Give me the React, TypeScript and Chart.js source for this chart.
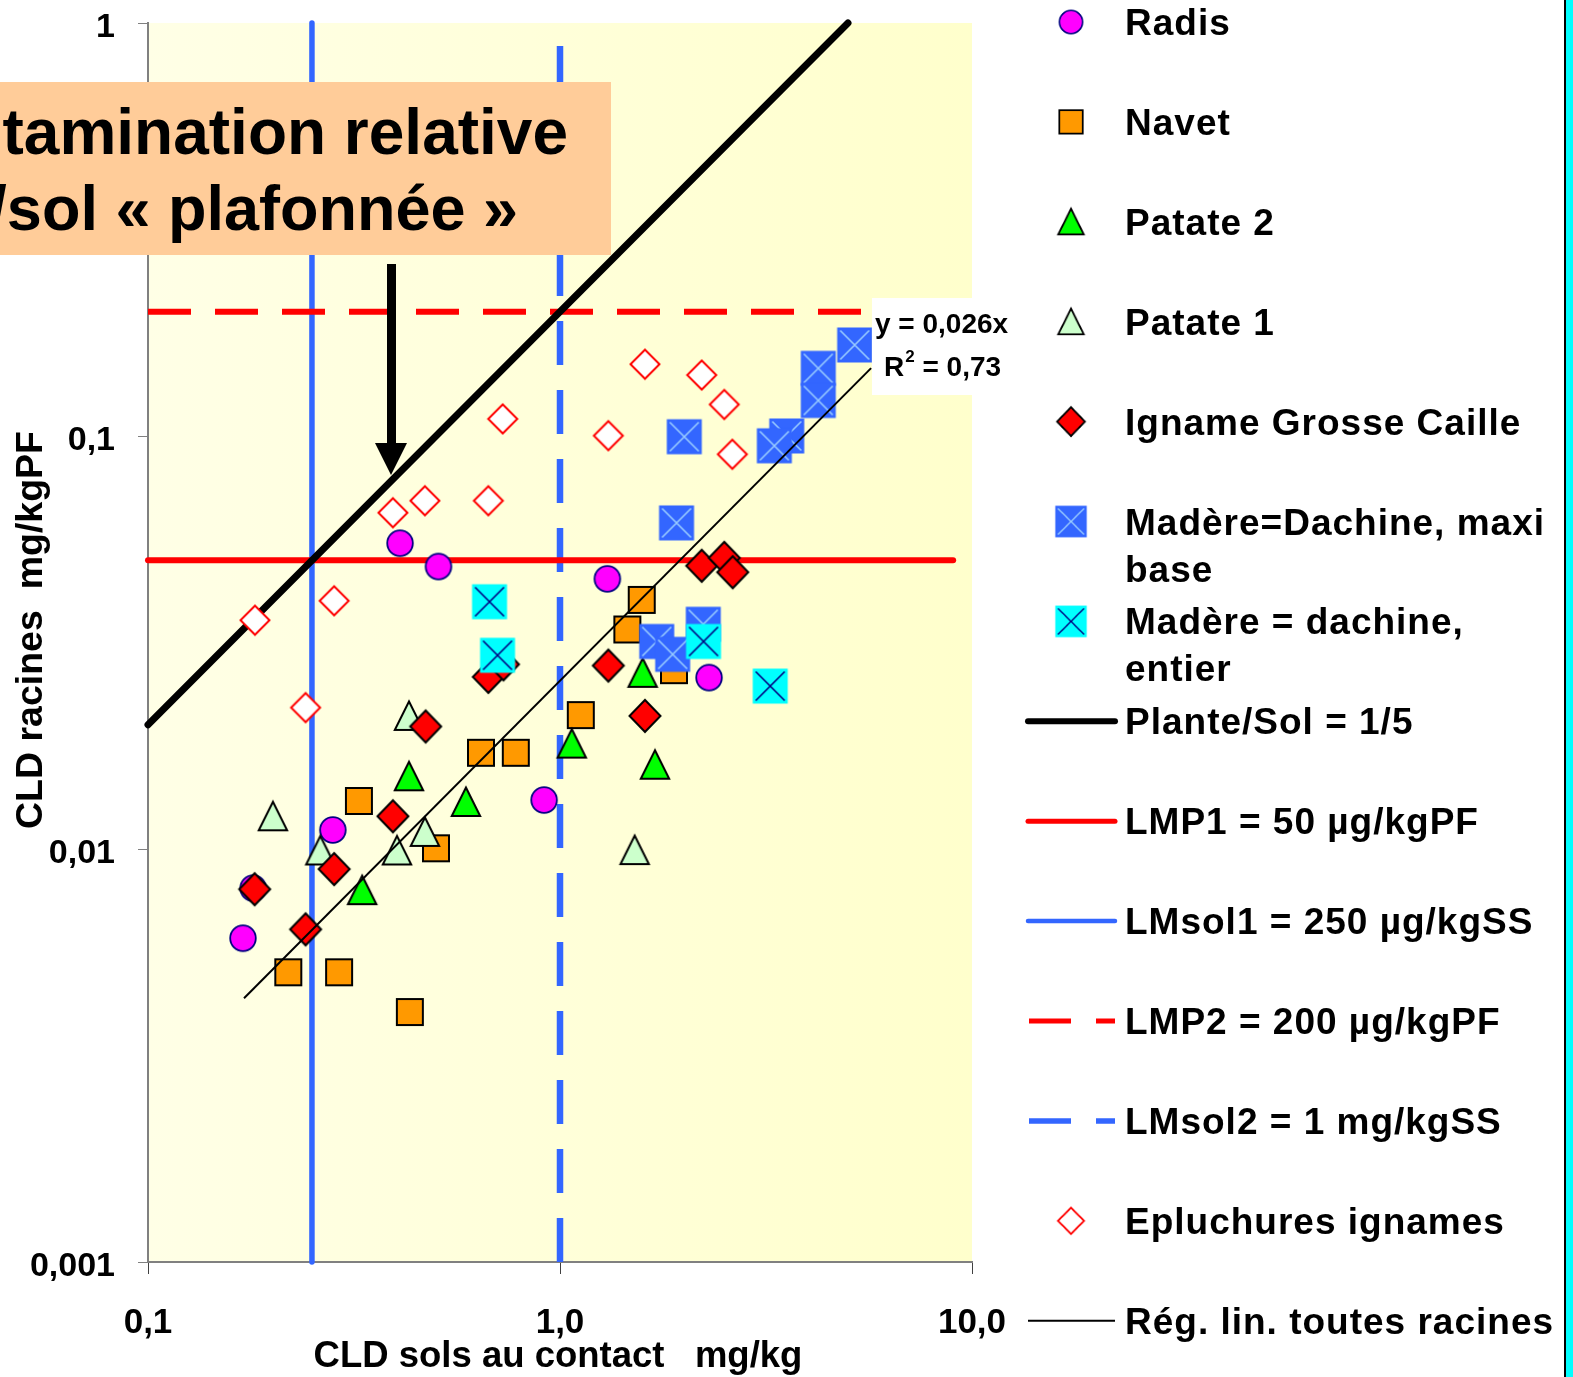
import React, { useEffect, useRef } from 'react';
import { Chart, registerables } from 'chart.js';

Chart.register(...registerables);

const W = 1573;
const H = 1377;
const FONT = '"Liberation Sans", Arial, Helvetica, sans-serif';

// ---- axes ----
const xTickValues = [0.1, 1, 10];
const xTickLabels = ['0,1', '1,0', '10,0'];
const yTickValues = [0.001, 0.01, 0.1, 1];
const yTickLabels = ['0,001', '0,01', '0,1', '1'];
const xTitle = 'CLD sols au contact   mg/kg';
const yTitle = 'CLD racines  mg/kgPF';

// ---- series (x = soil mg/kg, y = root mg/kgPF) ----
const radisX = [0.409, 0.507, 1.303, 2.3, 0.915, 0.281, 0.18, 0.17];
const radisY = [0.055, 0.0483, 0.0451, 0.026, 0.01314, 0.01112, 0.00804, 0.00608];

const navetX = [1.579, 1.457, 1.891, 1.123, 0.643, 0.781, 0.325, 0.5, 0.219, 0.291, 0.432];
const navetY = [0.0401, 0.034, 0.0271, 0.0211, 0.0171, 0.0171, 0.01307, 0.01004, 0.00503, 0.00503, 0.00403];

const patate2X = [1.587, 1.068, 1.7, 0.43, 0.591, 0.331];
const patate2Y = [0.0267, 0.018, 0.016, 0.015, 0.013, 0.00795];

const patate1X = [0.43, 0.201, 0.262, 0.402, 0.47, 1.518];
const patate1Y = [0.021, 0.012, 0.00992, 0.00992, 0.011, 0.00994];

const ignameX = [2.208, 2.505, 2.626, 1.31, 1.608, 0.67, 0.729, 0.472, 0.393, 0.283, 0.1815, 0.2413];
const ignameY = [0.0485, 0.0507, 0.0468, 0.0278, 0.021, 0.0261, 0.028, 0.0198, 0.012, 0.00894, 0.00799, 0.00639];

const madMaxiX = [5.19, 4.236, 4.236, 2.003, 3.55, 3.313, 1.918, 2.227, 1.717, 1.877];
const madMaxiY = [0.1661, 0.1458, 0.1219, 0.0996, 0.1, 0.0947, 0.0616, 0.035, 0.0318, 0.0296];

const madEntX = [0.6745, 0.7053, 2.23, 3.238];
const madEntY = [0.0397, 0.02945, 0.0318, 0.0248];

const epluX = [1.608, 2.208, 2.505, 0.726, 1.31, 2.62, 0.393, 0.47, 0.67, 0.283, 0.1818, 0.2413];
const epluY = [0.1492, 0.1405, 0.1192, 0.11, 0.1002, 0.0903, 0.0652, 0.0697, 0.0697, 0.0399, 0.0358, 0.022];

// ---- reference lines ----
const ratioX = [0.1, 5];
const ratioY = [0.02, 1];
const lmp1X = [0.1, 9];
const lmp1Y = [0.05, 0.05];
const lmsol1X = [0.25, 0.25];
const lmsol1Y = [0.001, 1];
const lmp2X = [0.1, 5.5];
const lmp2Y = [0.2, 0.2];
const lmsol2X = [1, 1];
const lmsol2Y = [0.001, 0.88];
const regX = [0.171, 5.69];
const regY = [0.00435, 0.146];

// ---- texts ----
const equationLine1 = 'y = 0,026x';
const equationR = 'R';
const equationSup = '2';
const equationLine2 = ' = 0,73';
const calloutLines = ['tamination relative', '/sol « plafonnée »'];

const legendEntries: { id: string; lines: string[] }[] = [
  { id: 'radis', lines: ['Radis'] },
  { id: 'navet', lines: ['Navet'] },
  { id: 'patate2', lines: ['Patate 2'] },
  { id: 'patate1', lines: ['Patate 1'] },
  { id: 'igname', lines: ['Igname Grosse Caille'] },
  { id: 'madMaxi', lines: ['Madère=Dachine, maxi', 'base'] },
  { id: 'madEnt', lines: ['Madère = dachine,', 'entier'] },
  { id: 'ratio', lines: ['Plante/Sol = 1/5'] },
  { id: 'lmp1', lines: ['LMP1 = 50 µg/kgPF'] },
  { id: 'lmsol1', lines: ['LMsol1 = 250 µg/kgSS'] },
  { id: 'lmp2', lines: ['LMP2 = 200 µg/kgPF'] },
  { id: 'lmsol2', lines: ['LMsol2 = 1 mg/kgSS'] },
  { id: 'eplu', lines: ['Epluchures ignames'] },
  { id: 'reg', lines: ['Rég. lin. toutes racines'] },
];

type MarkerKind = 'radis' | 'navet' | 'patate2' | 'patate1' | 'igname' | 'eplu' | 'madMaxi' | 'madEnt';

function makeMarker(kind: MarkerKind): HTMLCanvasElement {
  const size = 40;
  const c = document.createElement('canvas');
  c.width = size;
  c.height = size;
  const g = c.getContext('2d')!;
  g.translate(size / 2, size / 2);
  g.lineJoin = 'miter';
  const poly = (p: number[][]) => {
    g.beginPath();
    p.forEach(([x, y], i) => (i ? g.lineTo(x, y) : g.moveTo(x, y)));
    g.closePath();
  };
  switch (kind) {
    case 'radis':
      g.beginPath();
      g.arc(0, 0, 12.8, 0, Math.PI * 2);
      g.fillStyle = '#FF00FF';
      g.fill();
      g.lineWidth = 1.8;
      g.strokeStyle = '#000080';
      g.stroke();
      break;
    case 'navet':
      g.beginPath();
      g.rect(-13, -13, 26, 26);
      g.fillStyle = '#FF9900';
      g.fill();
      g.lineWidth = 2;
      g.strokeStyle = '#000';
      g.stroke();
      break;
    case 'patate2':
    case 'patate1':
      poly([[0, -14.5], [14.2, 14], [-14.2, 14]]);
      g.fillStyle = kind === 'patate2' ? '#00FF00' : '#CCFFCC';
      g.fill();
      g.lineWidth = 2;
      g.strokeStyle = '#000';
      g.stroke();
      break;
    case 'igname':
      poly([[0, -16], [15.5, 0], [0, 16], [-15.5, 0]]);
      g.fillStyle = '#FF0000';
      g.fill();
      g.lineWidth = 2;
      g.strokeStyle = '#000';
      g.stroke();
      break;
    case 'eplu':
      poly([[0, -14.5], [14.5, 0], [0, 14.5], [-14.5, 0]]);
      g.fillStyle = '#FFFFFF';
      g.fill();
      g.lineWidth = 2;
      g.strokeStyle = '#FF0000';
      g.stroke();
      break;
    case 'madMaxi':
    case 'madEnt':
      g.fillStyle = kind === 'madMaxi' ? '#3366FF' : '#00FFFF';
      g.fillRect(-17.5, -17.5, 35, 35);
      g.beginPath();
      g.moveTo(-14.5, -14.5);
      g.lineTo(14.5, 14.5);
      g.moveTo(14.5, -14.5);
      g.lineTo(-14.5, 14.5);
      g.lineWidth = 1.6;
      g.strokeStyle = kind === 'madMaxi' ? '#99CCFF' : '#000080';
      g.stroke();
      break;
  }
  return c;
}

const pts = (xs: number[], ys: number[]) => xs.map((x, i) => ({ x, y: ys[i] }));

export default function App() {
  const ref = useRef<HTMLCanvasElement>(null);

  useEffect(() => {
    const canvas = ref.current;
    if (!canvas) return;

    const markers: Record<string, HTMLCanvasElement> = {};
    (['radis', 'navet', 'patate2', 'patate1', 'igname', 'eplu', 'madMaxi', 'madEnt'] as MarkerKind[]).forEach(
      (k) => (markers[k] = makeMarker(k))
    );

    const scatterDs = (id: string, label: string, xs: number[], ys: number[], order: number) => ({
      type: 'scatter',
      id,
      label,
      data: pts(xs, ys),
      pointStyle: markers[id],
      pointRadius: 14,
      pointHoverRadius: 14,
      showLine: false,
      order,
      clip: false,
    });

    const lineDs = (
      id: string,
      label: string,
      xs: number[],
      ys: number[],
      color: string,
      width: number,
      dash: number[],
      cap: string,
      order: number
    ) => ({
      type: 'scatter',
      id,
      label,
      data: pts(xs, ys),
      showLine: true,
      borderColor: color,
      backgroundColor: color,
      borderWidth: width,
      borderDash: dash,
      borderCapStyle: cap,
      pointRadius: 0,
      pointHoverRadius: 0,
      fill: false,
      tension: 0,
      order,
      clip: false,
    });

    const datasets: any[] = [
      lineDs('lmsol1', 'LMsol1 = 250 µg/kgSS', lmsol1X, lmsol1Y, '#3366FF', 5.5, [], 'round', 13),
      lineDs('lmsol2', 'LMsol2 = 1 mg/kgSS', lmsol2X, lmsol2Y, '#3366FF', 6.5, [44, 25], 'butt', 12),
      lineDs('lmp1', 'LMP1 = 50 µg/kgPF', lmp1X, lmp1Y, '#FF0000', 6, [], 'round', 11),
      lineDs('lmp2', 'LMP2 = 200 µg/kgPF', lmp2X, lmp2Y, '#FF0000', 6, [43, 24], 'butt', 10),
      lineDs('ratio', 'Plante/Sol = 1/5', ratioX, ratioY, '#000000', 7, [], 'round', 9),
      scatterDs('radis', 'Radis', radisX, radisY, 8),
      scatterDs('navet', 'Navet', navetX, navetY, 7),
      scatterDs('patate1', 'Patate 1', patate1X, patate1Y, 6),
      scatterDs('patate2', 'Patate 2', patate2X, patate2Y, 5),
      scatterDs('igname', 'Igname Grosse Caille', ignameX, ignameY, 4),
      scatterDs('eplu', 'Epluchures ignames', epluX, epluY, 3),
      scatterDs('madMaxi', 'Madère=Dachine, maxi base', madMaxiX, madMaxiY, 2),
      scatterDs('madEnt', 'Madère = dachine, entier', madEntX, madEntY, 1),
      lineDs('reg', 'Rég. lin. toutes racines', regX, regY, '#000000', 2, [], 'butt', 0),
    ];

    const decor = {
      id: 'decor',
      beforeDraw(chart: any) {
        const { ctx, chartArea: a } = chart;
        ctx.save();
        ctx.fillStyle = '#FFFFFF';
        ctx.fillRect(0, 0, W, H);
        const grad = ctx.createLinearGradient(a.left, 0, a.right, 0);
        grad.addColorStop(0, '#FFFFE6');
        grad.addColorStop(1, '#FFFFCC');
        ctx.fillStyle = grad;
        ctx.fillRect(a.left, a.top, a.right - a.left, a.bottom - a.top);
        ctx.restore();
      },
      afterDraw(chart: any) {
        const { ctx } = chart;
        const xs = chart.scales.x;
        const ys = chart.scales.y;
        ctx.save();
        ctx.fillStyle = '#000';

        // tick labels
        ctx.font = `bold 34px ${FONT}`;
        ctx.textAlign = 'right';
        ctx.textBaseline = 'alphabetic';
        yTickValues.forEach((v, i) => {
          ctx.fillText(yTickLabels[i], 115, ys.getPixelForValue(v) + 14);
        });
        ctx.font = `bold 35px ${FONT}`;
        ctx.textAlign = 'center';
        xTickValues.forEach((v, i) => {
          ctx.fillText(xTickLabels[i], xs.getPixelForValue(v), 1333);
        });

        // axis titles
        ctx.font = `bold 36.5px ${FONT}`;
        ctx.fillText(xTitle, (xs.left + xs.right) / 2 - 2, 1367);
        ctx.save();
        ctx.font = `bold 37.5px ${FONT}`;
        ctx.translate(42, 630);
        ctx.rotate(-Math.PI / 2);
        ctx.fillText(yTitle, 0, 0);
        ctx.restore();

        // equation box
        ctx.fillStyle = '#FFFFFF';
        ctx.fillRect(872, 298, 138, 97);
        ctx.fillStyle = '#000';
        ctx.textAlign = 'left';
        ctx.font = `bold 28px ${FONT}`;
        ctx.fillText(equationLine1, 875, 333);
        ctx.fillText(equationR, 884, 376);
        const rw = ctx.measureText(equationR).width;
        ctx.font = `bold 17px ${FONT}`;
        ctx.fillText(equationSup, 884 + rw + 1, 362);
        const sw = ctx.measureText(equationSup).width;
        ctx.font = `bold 28px ${FONT}`;
        ctx.fillText(equationLine2, 884 + rw + sw + 1, 376);

        // callout box
        ctx.fillStyle = '#FFCC99';
        ctx.fillRect(0, 82, 611, 173);
        ctx.fillStyle = '#000';
        ctx.textAlign = 'right';
        ctx.font = `bold 64px ${FONT}`;
        ctx.fillText(calloutLines[0], 568, 154);
        ctx.font = `bold 63px ${FONT}`;
        ctx.fillText(calloutLines[1], 518, 230);

        // arrow
        ctx.fillRect(387, 264, 9, 181);
        ctx.beginPath();
        ctx.moveTo(375, 443);
        ctx.lineTo(407, 443);
        ctx.lineTo(391, 475);
        ctx.closePath();
        ctx.fill();

        // legend
        const byId: Record<string, any> = {};
        chart.data.datasets.forEach((d: any) => (byId[d.id] = d));
        legendEntries.forEach((e, i) => {
          const cy = 22 + i * 99.9;
          const ds = byId[e.id];
          if (ds.showLine) {
            ctx.save();
            ctx.strokeStyle = ds.borderColor;
            ctx.lineWidth = ds.borderWidth === 2 ? 2 : ds.borderWidth - 1;
            ctx.lineCap = ds.borderDash.length || ds.id === 'reg' ? 'butt' : 'round';
            ctx.setLineDash(ds.borderDash.length ? [42, 25] : []);
            ctx.beginPath();
            ctx.moveTo(ds.borderDash.length ? 1029 : 1028, cy);
            ctx.lineTo(1115, cy);
            ctx.stroke();
            ctx.restore();
          } else {
            const k = 0.9;
            const img = ds.pointStyle as HTMLCanvasElement;
            ctx.drawImage(img, 1071 - 20 * k, cy - 20 * k, 40 * k, 40 * k);
          }
          ctx.save();
          ctx.fillStyle = '#000';
          ctx.textAlign = 'left';
          ctx.font = `bold 37px ${FONT}`;
          (ctx as any).letterSpacing = '1px';
          e.lines.forEach((t, j) => ctx.fillText(t, 1125, cy + 13 + j * 47));
          ctx.restore();
        });

        // right edge strip
        ctx.fillStyle = '#000';
        ctx.fillRect(1564, 0, 2, H);
        ctx.fillStyle = '#00FFFF';
        ctx.fillRect(1566, 0, 7, H);

        ctx.restore();
      },
    };

    const chart = new Chart(canvas, {
      type: 'scatter',
      data: { datasets },
      options: {
        responsive: false,
        animation: false,
        devicePixelRatio: 1,
        events: [],
        layout: { padding: { left: 0, top: 23, right: 601, bottom: 0 } },
        plugins: { legend: { display: false }, tooltip: { enabled: false } },
        scales: {
          x: {
            type: 'logarithmic',
            position: 'bottom',
            min: 0.1,
            max: 10,
            grid: { display: true, drawOnChartArea: false, drawTicks: true, tickLength: 12, color: '#404040', lineWidth: 1 },
            border: { display: true, color: '#808080', width: 2 },
            ticks: { display: false },
            afterBuildTicks: (s: any) => {
              s.ticks = xTickValues.map((v) => ({ value: v }));
            },
            afterFit: (s: any) => {
              s.height = 115;
            },
          },
          y: {
            type: 'logarithmic',
            position: 'left',
            min: 0.001,
            max: 1,
            grid: { display: true, drawOnChartArea: false, drawTicks: true, tickLength: 10, color: '#808080', lineWidth: 1 },
            border: { display: true, color: '#808080', width: 2 },
            ticks: { display: false },
            afterBuildTicks: (s: any) => {
              s.ticks = yTickValues.map((v) => ({ value: v }));
            },
            afterFit: (s: any) => {
              s.width = 148;
            },
          },
        },
      } as any,
      plugins: [decor],
    });

    return () => chart.destroy();
  }, []);

  return (
    <div style={{ position: 'absolute', left: 0, top: 0, width: W, height: H, background: '#fff' }}>
      <canvas ref={ref} width={W} height={H} style={{ display: 'block', width: W, height: H }} />
    </div>
  );
}
